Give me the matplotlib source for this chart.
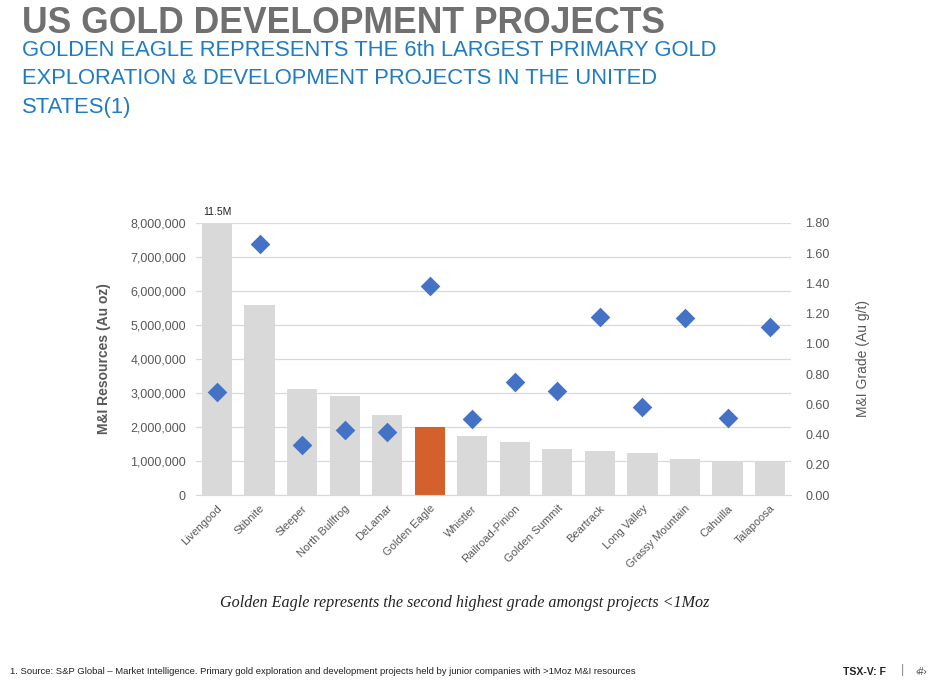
import numpy as np
import matplotlib
matplotlib.use("Agg")
import matplotlib.pyplot as plt
from matplotlib.ticker import FuncFormatter, MultipleLocator

# ----------- DATA -----------
projects = ["Livengood", "Stibnite", "Sleeper", "North Bullfrog", "DeLamar",
            "Golden Eagle", "Whistler", "Railroad-Pinion", "Golden Summit",
            "Beartrack", "Long Valley", "Grassy Mountain", "Cahuilla", "Talapoosa"]
resources_oz = [11_500_000, 5_600_000, 3_130_000, 2_920_000, 2_360_000,
                2_010_000, 1_750_000, 1_550_000, 1_360_000,
                1_300_000, 1_240_000, 1_060_000, 1_010_000, 1_010_000]
grade_gt = [0.68, 1.66, 0.33, 0.43, 0.42,
            1.38, 0.50, 0.75, 0.69,
            1.18, 0.58, 1.17, 0.51, 1.11]
highlight = "Golden Eagle"

# ----------- STYLE -----------
GREY_BAR = "#D9D9D9"
ORANGE = "#D4612B"
BLUE = "#4472C4"
TICK_GREY = "#595959"
TITLE_GREY = "#707070"
SUB_BLUE = "#1F7CC0"

plt.rcParams["font.family"] = ["Liberation Sans", "DejaVu Sans"]

fig = plt.figure(figsize=(9.5, 6.86), dpi=100)
ax = fig.add_axes([0.206, 0.2784, 0.627, 0.3966])
ax2 = ax.twinx()

x = np.arange(len(projects))
colors = [ORANGE if p == highlight else GREY_BAR for p in projects]
ax.bar(x, resources_oz, width=0.71, color=colors, zorder=2)
ax2.scatter(x, grade_gt, marker="D", s=100, color=BLUE, zorder=3, linewidths=0)

ax.set_xlim(-0.5, len(projects) - 0.5)
ax.set_ylim(0, 8_000_000)
ax.yaxis.set_major_locator(MultipleLocator(1_000_000))
ax.yaxis.set_major_formatter(FuncFormatter(lambda v, _: f"{int(v):,}"))
ax2.set_ylim(0, 1.8)
ax2.yaxis.set_major_locator(MultipleLocator(0.2))
ax2.yaxis.set_major_formatter(FuncFormatter(lambda v, _: f"{v:.2f}"))

ax.grid(axis="y", color="#D9D9D9", linewidth=0.9, zorder=0)
ax.set_axisbelow(True)
for a in (ax, ax2):
    for s in a.spines.values():
        s.set_visible(False)
    a.tick_params(length=0, labelsize=9, labelcolor=TICK_GREY)
ax.tick_params(axis="y", pad=7)
ax2.tick_params(axis="y", pad=10)
ax.spines["bottom"].set_visible(True)
ax.spines["bottom"].set_color("#D9D9D9")

ax.set_xticks(x)
ax.set_xticklabels(projects, rotation=45, ha="right", rotation_mode="anchor",
                   fontsize=8, color=TICK_GREY)
ax.tick_params(axis="x", pad=6)

ax.set_ylabel("M&I Resources (Au oz)", fontsize=10, fontweight="bold",
              color=TICK_GREY, labelpad=14)
ax2.set_ylabel("M&I Grade (Au g/t)", fontsize=10, color=TICK_GREY, labelpad=19)

# label for the clipped Livengood bar
ax.annotate(f"{resources_oz[0] / 1e6:.1f}M", (0, 8_000_000), xytext=(0, 4),
            textcoords="offset points", ha="center", va="bottom",
            fontsize=7.5, color="#222222")

# ----------- TEXT -----------
fig.text(22 / 950, 1 - 33 / 686, "US GOLD DEVELOPMENT PROJECTS", fontsize=25.6,
         fontweight="bold", color=TITLE_GREY, va="baseline", ha="left")
sub = ["GOLDEN EAGLE REPRESENTS THE 6th LARGEST PRIMARY GOLD",
       "EXPLORATION & DEVELOPMENT PROJECTS IN THE UNITED",
       "STATES(1)"]
for i, line in enumerate(sub):
    fig.text(22 / 950, 1 - (56 + 28.5 * i) / 686, line, fontsize=15.8,
             color=SUB_BLUE, va="baseline", ha="left")

fig.text(465 / 950, 1 - 603 / 686,
         "Golden Eagle represents the second highest grade amongst projects <1Moz",
         fontsize=11.6, style="italic", family=["Liberation Serif", "DejaVu Serif"],
         color="#222222", ha="center", va="center")
fig.text(10 / 950, 1 - 672 / 686,
         "1. Source: S&P Global \u2013 Market Intelligence. Primary gold exploration and "
         "development projects held by junior companies with >1Moz M&I resources",
         fontsize=6.8, color="#222222", ha="left", va="center")
fig.text(843 / 950, 1 - 672 / 686, "TSX-V: F", fontsize=7.6, fontweight="bold",
         color="#222222", ha="left", va="center")
fig.text(903 / 950, 1 - 670 / 686, "|", fontsize=9, color="#888888",
         ha="center", va="center")
fig.text(921 / 950, 1 - 672 / 686, "\u2039#\u203a", fontsize=7, color="#444444",
         ha="center", va="center")

fig.savefig("out.png", dpi=100, facecolor="white")
